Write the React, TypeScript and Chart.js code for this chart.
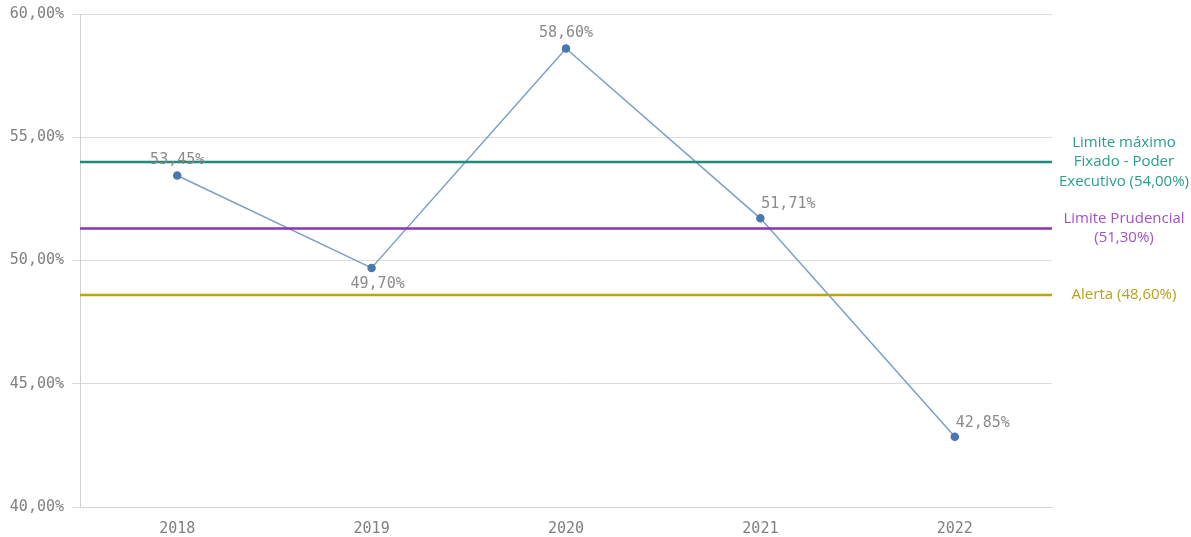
import React, { useEffect, useRef } from "react";
import { Chart, registerables } from "chart.js";

Chart.register(...registerables);

const categories = ["2018", "2019", "2020", "2021", "2022"];
const values = [53.45, 49.7, 58.6, 51.71, 42.85];
const labelPlacement = ["above", "below", "above", "aboveRight", "aboveRight"];
const refValues = [54.0, 51.3, 48.6];
const refLabels = [
  ["Limite máximo", "Fixado - Poder", "Executivo (54,00%)"],
  ["Limite Prudencial", "(51,30%)"],
  ["Alerta (48,60%)"],
];
const refLineColors = ["#1f8a7a", "#8c33b8", "#b8a419"];
const refTextColors = ["#2b9d8c", "#a351c8", "#b8a21c"];
const yMin = 40;
const yMax = 60;
const yStep = 5;

const fmt = (v: number) => v.toFixed(2).replace(".", ",") + "%";
const MONO = "'DejaVu Sans Mono', monospace";

export default function App() {
  const ref = useRef<HTMLCanvasElement | null>(null);
  useEffect(() => {
    if (!ref.current) return;
    const overlay = {
      id: "overlay",
      afterDatasetsDraw(chart: any) {
        const ctx = chart.ctx;
        const area = chart.chartArea;
        const y = chart.scales.y;
        refValues.forEach((v, i) => {
          const py = y.getPixelForValue(v);
          ctx.save();
          ctx.strokeStyle = refLineColors[i];
          ctx.lineWidth = 2.5;
          ctx.beginPath();
          ctx.moveTo(area.left, py);
          ctx.lineTo(area.right, py);
          ctx.stroke();
          ctx.fillStyle = refTextColors[i];
          ctx.font = "15px 'Open Sans', sans-serif";
          ctx.textAlign = "center";
          ctx.textBaseline = "middle";
          const lines = refLabels[i];
          const lh = 19.5;
          const start = py - ((lines.length - 1) * lh) / 2;
          lines.forEach((t, j) => ctx.fillText(t, 1124, start + j * lh));
          ctx.restore();
        });
      },
      afterDraw(chart: any) {
        const ctx = chart.ctx;
        const meta = chart.getDatasetMeta(0);
        ctx.save();
        ctx.font = "15px " + MONO;
        ctx.fillStyle = "#8a8a8a";
        ctx.textAlign = "center";
        ctx.textBaseline = "middle";
        meta.data.forEach((pt: any, i: number) => {
          const p = labelPlacement[i];
          let dx = 0;
          let dy = -15;
          if (p === "below") { dx = 6; dy = 16; }
          if (p === "aboveRight") { dx = 28; dy = -14; }
          ctx.fillText(fmt(values[i]), pt.x + dx, pt.y + dy);
        });
        ctx.restore();
      },
    };
    const chart = new Chart(ref.current, {
      type: "line",
      data: {
        labels: categories,
        datasets: [
          {
            data: values,
            borderColor: "#7d9fc6",
            borderWidth: 1.5,
            pointBackgroundColor: "#4a78ae",
            pointBorderColor: "#4a78ae",
            pointRadius: 3.5,
            tension: 0,
          },
        ],
      },
      options: {
        animation: false,
        responsive: false,
        maintainAspectRatio: false,
        layout: { padding: { left: 0, right: 139, top: 14, bottom: 0 } },
        plugins: { legend: { display: false }, tooltip: { enabled: false } },
        scales: {
          x: {
            offset: true,
            grid: { display: false, drawTicks: false },
            border: { display: true, color: "#d0d0d0", width: 1 },
            ticks: { color: "#808080", font: { family: MONO, size: 15 }, padding: 13 },
            afterFit(s: any) { s.height = 30; s.paddingLeft = 0; s.paddingRight = 0; },
          },
          y: {
            min: yMin,
            max: yMax,
            grid: { color: "#dcdcdc", tickLength: 8, lineWidth: 1 },
            border: { display: true, color: "#d0d0d0" },
            ticks: {
              stepSize: yStep,
              color: "#808080",
              font: { family: MONO, size: 15 },
              padding: 8,
              callback: (v: any) => fmt(Number(v)),
            },
            afterFit(s: any) { s.width = 80; s.paddingTop = 0; s.paddingBottom = 0; },
          },
        },
      },
      plugins: [overlay],
    });
    return () => chart.destroy();
  }, []);
  return (
    <div style={{ position: "fixed", left: 0, top: 0, width: 1191, height: 537, background: "#fff" }}>
      <canvas ref={ref} width={1191} height={537} style={{ width: 1191, height: 537 }} />
    </div>
  );
}
